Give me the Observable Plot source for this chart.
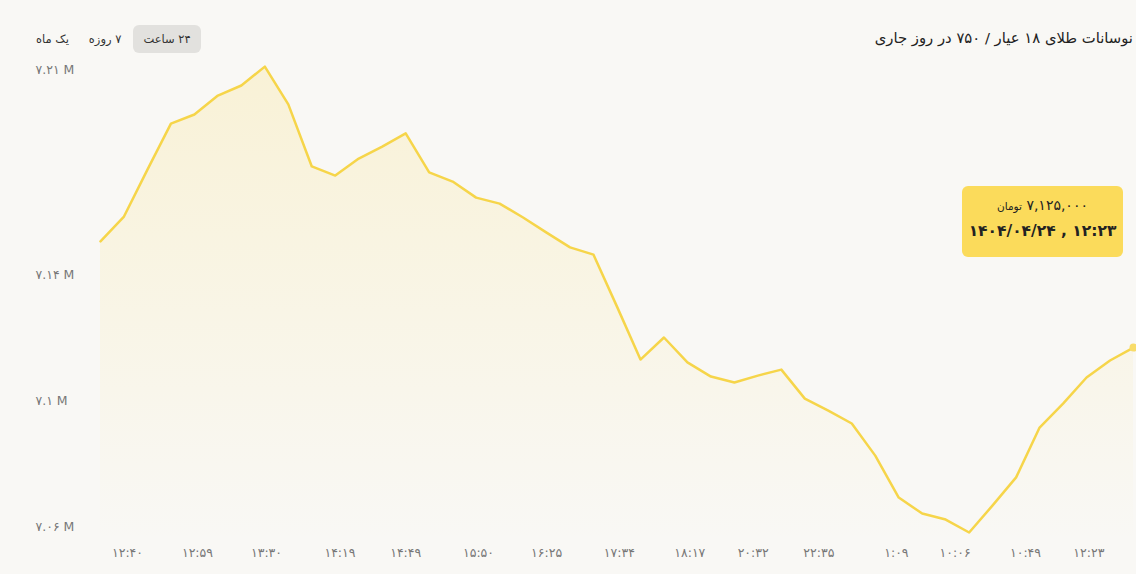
<!DOCTYPE html>
<html>
<head>
<meta charset="utf-8">
<script src="https://cdn.jsdelivr.net/npm/d3@7"></script>
<script src="https://cdn.jsdelivr.net/npm/@observablehq/plot@0.6"></script>
<style>
  html, body { margin: 0; padding: 0; background: #f9f8f5; }
  body { width: 1136px; height: 574px; overflow: hidden; font-family: "DejaVu Sans", "Noto Sans", sans-serif; }
  #wrap { position: relative; width: 1136px; height: 574px; }
  #chart { position: absolute; left: 0; top: 0; }
  #title { position: absolute; right: 3px; top: 29px; direction: rtl; font-size: 14.8px; color: #222; white-space: nowrap; }
  #tabs { position: absolute; left: 28px; top: 25px; display: flex; direction: rtl; gap: 4px; }
  #tabs div { font-size: 11.5px; color: #333; padding: 7px 8px; border-radius: 6px; white-space: nowrap; }
  #tabs div.active { background: #e2e1de; padding: 7px 10px; }
  #tip { position: absolute; left: 962px; top: 186px; width: 161px; height: 71px; background: #fbdb5b; border-radius: 6px; color: #222; text-align: center; }
  #tip .l1 { direction: rtl; margin-top: 11px; font-size: 14px; }
  #tip .l1 .u { font-size: 10.5px; }
  #tip .l2 { direction: ltr; margin-top: 9px; font-size: 15.5px; font-weight: bold; }
</style>
</head>
<body>
<div id="wrap">
  <div id="chart"></div>
  <div id="tabs"></div>
  <div id="title"></div>
  <div id="tip"><div class="l1"></div><div class="l2"></div></div>
</div>
<script>
// ---- data ----
const titleText = "نوسانات طلای ۱۸ عیار / ۷۵۰ در روز جاری";
const tabLabels = ["۲۴ ساعت", "۷ روزه", "یک ماه"];
const activeTab = 0;

// price (toman) per sample, evenly spaced samples
const prices = [
  7150500, 7158400, 7173300, 7187900, 7190800, 7196800, 7200000, 7206000,
  7194000, 7174300, 7171400, 7176800, 7180600, 7184800, 7172400, 7169500,
  7164400, 7162500, 7158100, 7153300, 7148600, 7146300, 7129800, 7113000,
  7120000, 7112100, 7107600, 7105700, 7107900, 7109800, 7100600, 7096800,
  7092700, 7082500, 7069200, 7064100, 7062200, 7058100, 7066700, 7075600,
  7091400, 7099000, 7107300, 7112700, 7116800
];

// x tick positions (sample index) and labels
const xTickPos = [1.15, 4.13, 7.07, 10.2, 13.0, 16.1, 19.0, 22.1, 25.1, 27.8, 30.6, 33.9, 36.4, 39.4, 42.1];
const xTickLabels = ["۱۲:۴۰", "۱۲:۵۹", "۱۳:۳۰", "۱۴:۱۹", "۱۴:۴۹", "۱۵:۵۰", "۱۶:۲۵", "۱۷:۳۴", "۱۸:۱۷", "۲۰:۳۲", "۲۲:۳۵", "۱:۰۹", "۱۰:۰۶", "۱۰:۴۹", "۱۲:۲۳"];

// y ticks and labels
const yTickValues = [7060000, 7100000, 7140000, 7205000];
const yTickLabels = ["۷.۰۶ M", "۷.۱ M", "۷.۱۴ M", "۷.۲۱ M"];
const yDomain = [7055000, 7215000];

// tooltip
const tipPrice = "۷,۱۲۵,۰۰۰";
const tipUnit = "تومان";
const tipDate = "۱۴۰۴/۰۴/۲۴ , ۱۲:۲۳";

// ---- build ----
const data = prices.map((p, i) => ({i, p}));
const last = data[data.length - 1];

const lineColor = "#f6d54a";

const defs = () => {
  const svgDefs = d3.create("svg:defs");
  const g = svgDefs.append("linearGradient").attr("id", "areaGrad")
    .attr("x1", 0).attr("y1", 0).attr("x2", 0).attr("y2", 1);
  g.append("stop").attr("offset", "0%").attr("stop-color", "#f9d54a").attr("stop-opacity", 0.18);
  g.append("stop").attr("offset", "100%").attr("stop-color", "#f9d54a").attr("stop-opacity", 0.0);
  return svgDefs.node();
};

const chart = Plot.plot({
  width: 1136,
  height: 574,
  marginLeft: 100,
  marginRight: 3,
  marginTop: 37.75,
  marginBottom: 32.25,
  style: { background: "transparent", fontFamily: "DejaVu Sans, sans-serif" },
  x: { domain: [0, prices.length - 1], axis: null, label: null },
  y: { domain: yDomain, axis: null, label: null },
  marks: [
    defs,
    Plot.areaY(data, { x: "i", y1: yDomain[0], y2: "p", fill: "url(#areaGrad)" }),
    Plot.lineY(data, { x: "i", y: "p", stroke: lineColor, strokeWidth: 2.5, strokeLinejoin: "round" }),
    Plot.dot([last], { x: "i", y: "p", r: 4, fill: "#f8dc6a", stroke: "none" }),
    Plot.axisY({
      anchor: "left", label: null, ticks: yTickValues, tickFormat: d => yTickLabels[yTickValues.indexOf(d)],
      tickSize: 0, tickPadding: 0, textAnchor: "start", dx: 35 - 100,
      fontSize: 12.5, color: "#777", fill: "#777"
    }),
    Plot.axisX({
      anchor: "bottom", label: null, ticks: xTickPos, tickFormat: d => xTickLabels[xTickPos.indexOf(d)],
      tickSize: 0, tickPadding: 0, dy: 6,
      fontSize: 12.5, color: "#777", fill: "#777"
    })
  ]
});
document.getElementById("chart").appendChild(chart);

document.getElementById("title").textContent = titleText;
const tabs = document.getElementById("tabs");
tabLabels.forEach((t, k) => {
  const d = document.createElement("div");
  d.textContent = t;
  if (k === activeTab) d.className = "active";
  tabs.appendChild(d);
});
const tip = document.getElementById("tip");
const num = document.createElement("span"); num.textContent = tipPrice;
const unit = document.createElement("span"); unit.className = "u"; unit.textContent = tipUnit;
tip.querySelector(".l1").append(num, " ", unit);
tip.querySelector(".l2").textContent = tipDate;
</script>
</body>
</html>
